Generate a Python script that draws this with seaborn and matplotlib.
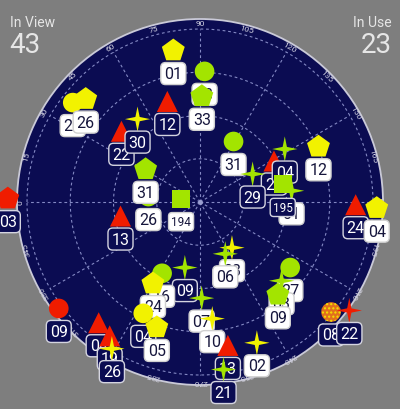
import numpy as np
import matplotlib
matplotlib.use("Agg")
import matplotlib.pyplot as plt
from matplotlib.path import Path
import seaborn as sns

# satellites, in drawing order (later ones sit on top)
sat_ids = ["13", "33", "01", "12", "20", "26", "22", "30", "26", "31", "194",
           "13", "03", "09", "04", "19", "26", "31", "27", "29", "04", "12",
           "01", "195", "24", "04", "09", "16", "24", "04", "05", "03", "06",
           "07", "10", "13", "21", "02", "27", "03", "09", "08", "22"]
azimuth = [92, 91, 80, 72, 38, 42, 42, 53, 6, 31, 10,
           350, 1, 323, 310, 304, 301, 119, 151, 152, 148, 155,
           173, 168, 181, 182, 283, 298, 300, 297, 289, 235, 244,
           269, 264, 259, 262, 248, 216, 224, 230, 220, 216]
elevation = [22, 35, 10, 35, 6, 10, 35, 36, 63, 57, 80,
             48, -10, -2, 8, 6, 1, 54, 46, 59, 38, 22,
             42, 46, 9, -2, 55, 48, 41, 25, 21, 61, 60,
             40, 29, 14, 2, 11, 32, 31, 27, 1, -6]
shape = ["circle", "pent", "pent", "tri", "circle", "pent", "tri", "star", "circle", "pent", "square",
         "tri", "pent", "circle", "tri", "tri", "star", "circle", "tri", "star", "star", "pent",
         "star", "square", "tri", "pent", "star", "circle", "pent", "circle", "pent", "star", "star",
         "star", "star", "tri", "star", "star", "circle", "star", "pent", "circle", "star"]
signal = ["good", "good", "fair", "weak", "fair", "fair", "weak", "fair", "good", "good", "good",
          "weak", "weak", "weak", "weak", "weak", "fair", "good", "weak", "good", "good", "fair",
          "good", "good", "weak", "fair", "good", "good", "fair", "fair", "fair", "fair", "good",
          "good", "fair", "weak", "good", "fair", "good", "good", "good", "none", "weak"]
in_use = [1, 1, 1, 0, 1, 1, 0, 0, 1, 1, 1,
          0, 0, 0, 0, 0, 0, 1, 0, 0, 0, 1,
          1, 0, 0, 1, 0, 1, 1, 0, 1, 1, 1,
          1, 1, 0, 0, 1, 1, 1, 1, 0, 0]
az_ticks = list(range(0, 360, 15))
n_view, n_use = 43, 23

navy = "#0b0c52"
grey = "#7e7e7e"
colors = {"good": "#a3e400", "fair": "#f2f200", "weak": "#f01c00", "none": "#e2701c"}

sparkle = Path([(0, 1), (0.17, 0.17), (1, 0), (0.17, -0.17), (0, -1),
                (-0.17, -0.17), (-1, 0), (-0.17, 0.17), (0, 1)], closed=True)
markers = {"circle": ("o", 200), "pent": ("p", 300), "tri": ("^", 230),
           "star": (sparkle, 330), "square": ("s", 170)}

plt.rcParams["font.family"] = ["Roboto", "DejaVu Sans"]

fig = plt.figure(figsize=(4, 4.1), dpi=100, facecolor=grey)
ax = fig.add_axes([0.0425, 0.0585, 0.915, 0.8927], projection="polar")
ax.set_theta_offset(np.pi)
ax.set_theta_direction(-1)
ax.set_facecolor(navy)
ax.grid(False)
ax.spines["polar"].set_color("#cacad8")
ax.spines["polar"].set_linewidth(1.3)

# dashed rings and spokes
th = np.linspace(0, 2 * np.pi, 361)
for rr in [22.5, 45, 67.5, 90]:
    ax.plot(th, np.full_like(th, rr), color="#8489c4", lw=0.8, ls=(0, (2.5, 2.5)), zorder=1)
for a in range(0, 360, 30):
    ax.plot([np.deg2rad(a)] * 2, [0, 90], color="#8489c4", lw=0.8, ls=(0, (2.5, 2.5)), zorder=1)
ax.plot([0], [0], "o", ms=2.5, color="#9a9ed0", zorder=1)

for a in az_ticks:
    ax.text(np.deg2rad(a), 93.3, str(a), rotation=90 - a, rotation_mode="anchor",
            ha="center", va="center", fontsize=6, color="#d8d8e6", zorder=2)

for i, sid in enumerate(sat_ids):
    theta = np.deg2rad(azimuth[i])
    r = 90 - elevation[i]
    m, s = markers[shape[i]]
    z = 3 + i * 0.02
    kw = dict(edgecolor="none", linewidth=0)
    if signal[i] == "none":
        kw = dict(edgecolor="#f4e400", linewidth=0, hatch="....")
    sns.scatterplot(x=[theta], y=[r], marker=m, s=s, color=colors[signal[i]], ax=ax,
                    zorder=z, clip_on=False, legend=False, **kw)
    if in_use[i]:
        fc, tc, ec = "white", "#16163c", "#d0d0d0"
    else:
        fc, tc, ec = navy, "white", "#d4d4e0"
    fs = 8.5 if len(sid) == 3 else 11.5
    ax.annotate(sid, (theta, r), xytext=(0, -23), textcoords="offset pixels",
                ha="center", va="center", fontsize=fs, color=tc, zorder=z + 0.01,
                annotation_clip=False,
                bbox=dict(boxstyle="round,pad=0.22,rounding_size=0.3", fc=fc, ec=ec, lw=1))

ax.set_ylim(0, 95.2)
ax.set_xticks([])
ax.set_yticks([])
ax.set_xlabel("")
ax.set_ylabel("")

fig.text(0.025, 0.945, "In View", fontsize=10, color="#e6e6e6", ha="left", va="center")
fig.text(0.022, 0.888, str(n_view), fontsize=20, color="#e6e6e6", ha="left", va="center")
fig.text(0.98, 0.945, "In Use", fontsize=10, color="#e6e6e6", ha="right", va="center")
fig.text(0.98, 0.888, str(n_use), fontsize=20, color="#e6e6e6", ha="right", va="center")

fig.savefig("out.png", dpi=100, facecolor=grey)
